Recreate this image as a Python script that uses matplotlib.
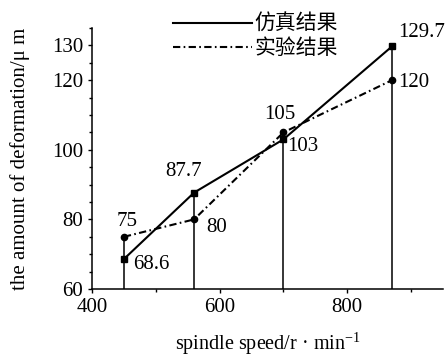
import matplotlib
matplotlib.use("Agg")
import matplotlib.pyplot as plt
from matplotlib.ticker import FixedLocator, MultipleLocator

plt.rcParams['font.family'] = ['Liberation Serif', 'Noto Sans CJK SC', 'DejaVu Sans']
plt.rcParams['mathtext.fontset'] = 'custom'
plt.rcParams['mathtext.rm'] = 'Liberation Serif'

# data
speed = [450, 560, 700, 870]
sim = [68.6, 87.7, 103, 129.7]
exp = [75, 80, 105, 120]
sim_labels = ["68.6", "87.7", "103", "129.7"]
exp_labels = ["75", "80", "105", "120"]
legend_labels = ["仿真结果", "实验结果"]
yticks_major = [60, 80, 100, 120, 130]
xticks_major = [400, 600, 800]

fig = plt.figure(figsize=(4.45, 3.56), dpi=100)
ax = fig.add_axes([92/445, 67/356, (443-92)/445, (289-28)/356])

ax.set_xlim(400, 950)
ax.set_ylim(60, 135)

# vertical drop lines
tops = [max(a, b) for a, b in zip(sim, exp)]
ax.vlines(speed, 60, tops, colors='black', lw=1.1, zorder=1)

dashdot = (0, (3.5, 1.6, 0.8, 1.6))
l1, = ax.plot(speed, sim, color='black', lw=1.5, marker='s', ms=4.5, zorder=3)
l2, = ax.plot(speed, exp, color='black', lw=1.5, linestyle=dashdot, marker='o', ms=4.5, zorder=3)

fs = 15
# label offsets in pixels (x, y) and alignment
sim_off = [(9, -5, 'left'), (-11, 21, 'center'), (4, -7, 'left'), (6, 14, 'left')]
exp_off = [(3, 15, 'center'), (12, -8, 'left'), (-4, 18, 'center'), (6, -2, 'left')]
for x, y, t, (dx, dy, ha) in zip(speed, sim, sim_labels, sim_off):
    ax.annotate(t, (x, y), xytext=(dx, dy), textcoords='offset pixels',
                ha=ha, va='center', fontsize=fs)
for x, y, t, (dx, dy, ha) in zip(speed, exp, exp_labels, exp_off):
    ax.annotate(t, (x, y), xytext=(dx, dy), textcoords='offset pixels',
                ha=ha, va='center', fontsize=fs)

for s in ['top', 'right']:
    ax.spines[s].set_visible(False)
for s in ['left', 'bottom']:
    ax.spines[s].set_linewidth(1.1)

ax.yaxis.set_major_locator(FixedLocator(yticks_major))
ax.yaxis.set_minor_locator(MultipleLocator(5))
ax.xaxis.set_major_locator(FixedLocator(xticks_major))
ax.xaxis.set_minor_locator(MultipleLocator(100))
ax.tick_params(which='major', direction='out', length=3, width=1.0, labelsize=fs)
ax.tick_params(which='minor', direction='out', length=2, width=1.0)

ax.set_ylabel("the amount of deformation/μ m", fontsize=fs, va='center')
ax.yaxis.set_label_coords((20 - 92) / 351, 0.5)
ax.set_xlabel("spindle speed/r · min$^{-1}$", fontsize=14.5, va='center')
ax.xaxis.set_label_coords(0.5, (12 - 67) / 261)

ax.legend([l1, l2], legend_labels, loc='upper left',
          bbox_to_anchor=(173/445, 1 - 13/356), bbox_transform=fig.transFigure,
          frameon=False, borderpad=0, borderaxespad=0, handlelength=3.8,
          handletextpad=0.1, labelspacing=0.1,
          prop={'family': ['Noto Sans CJK SC'], 'size': 15})
for h in ax.get_legend().legend_handles:
    h.set_marker('')

fig.savefig("out.png", dpi=100)
